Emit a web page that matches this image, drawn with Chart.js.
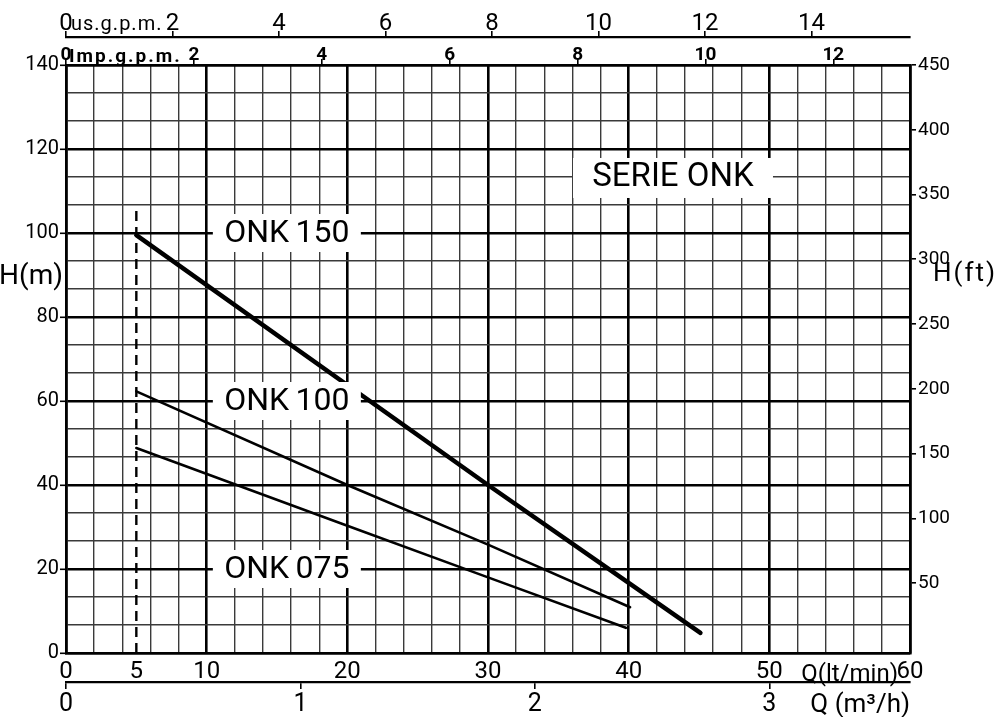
<!DOCTYPE html>
<html>
<head>
<meta charset="utf-8">
<script src="https://cdn.jsdelivr.net/npm/chart.js@4.4.1/dist/chart.umd.min.js"></script>
<style>
  html, body { margin: 0; padding: 0; background: #fff; }
  #wrap { width: 998px; height: 717px; position: relative; }
</style>
</head>
<body>
<div id="wrap"><canvas id="pump"></canvas></div>
<script>
// flow Q in lt/min, head H in m
const onk150Q = [5, 30, 40, 45.1];
const onk150H = [99.5, 40, 16.7, 4.8];
const onk100Q = [5, 20, 30, 40.1];
const onk100H = [62.3, 40, 25.8, 10.9];
const onk075Q = [5, 20, 30, 39.8];
const onk075H = [48.8, 30.3, 18, 6];
// minimum flow marker (dashed)
const minFlowQ = [5, 5];
const minFlowH = [0, 106];

const curveNames = ['ONK\u2009150', 'ONK\u2009100', 'ONK\u2009075'];
const curveNameH = [100, 60, 20];
const seriesName = 'SERIE ONK';

// tick labels
const qTicks = [0, 5, 10, 20, 30, 40, 50, 60];
const hTicks = [0, 20, 40, 60, 80, 100, 120, 140];
const ftTicks = [50, 100, 150, 200, 250, 300, 350, 400, 450];
const usTicks = [0, 2, 4, 6, 8, 10, 12, 14];
const impTicks = [0, 2, 4, 6, 8, 10, 12];
const m3hTicks = [0, 1, 2, 3];

const LPM_PER_USGPM = 3.785;
const LPM_PER_IMPGPM = 4.546;
const LPM_PER_M3H = 16.667;

// grid: every 2 lt/min, every 20/3 m
const qGrid = [];
for (let v = 0; v <= 60; v += 2) { qGrid.push(v); if (v === 4) qGrid.push(5); }
const hGrid = [];
for (let k = 0; k <= 21; k++) hGrid.push(k * 20 / 3);

const isMult = (v, step) => Math.abs(v / step - Math.round(v / step)) < 1e-6;
const asTicks = arr => arr.map(v => ({ value: v }));
const pts = (q, h) => q.map((v, i) => ({ x: v, y: h[i] }));

const minor = '#3a3a3a';
const font = (size, weight) => ({ family: 'Roboto', size: size, weight: weight || 'normal' });

const sideAxis = (extra) => Object.assign({
  type: 'linear',
  grid: { drawOnChartArea: false, color: '#000', lineWidth: 1.6, tickLength: 6 },
  border: { color: '#000', width: 2.2 },
  ticks: { color: '#000', autoSkip: false, maxRotation: 0, padding: 1 }
}, extra);

const extras = {
  id: 'extras',
  afterDraw(chart) {
    const { ctx, scales } = chart;
    const { x, y } = scales;
    ctx.save();
    ctx.textAlign = 'center';
    ctx.textBaseline = 'middle';

    // curve name boxes
    curveNames.forEach((name, i) => {
      const cx = x.getPixelForValue(15.7), cy = y.getPixelForValue(curveNameH[i]);
      ctx.fillStyle = '#fff';
      ctx.fillRect(cx - 74, cy - 19, 148, 38);
      ctx.fillStyle = '#000';
      ctx.font = '32px Roboto';
      ctx.fillText(name, cx, cy + 1);
    });

    // series title
    const sx = x.getPixelForValue(43.15), sy = y.getPixelForValue(113.1);
    ctx.fillStyle = '#fff';
    ctx.fillRect(sx - 100, sy - 20, 200, 40);
    ctx.fillStyle = '#000';
    ctx.font = '33px Roboto';
    ctx.fillText(seriesName, sx, sy);

    // axis names
    ctx.font = '28px Roboto';
    ctx.fillText('H(m)', 31, 277);
    ctx.letterSpacing = '2px';
    ctx.font = '26px Roboto';
    ctx.fillText('H(ft)', 965, 274);

    ctx.textAlign = 'left';
    ctx.textBaseline = 'alphabetic';
    ctx.letterSpacing = '1px';
    ctx.font = '20px Roboto';
    ctx.fillText('us.g.p.m.', scales.us.getPixelForValue(0) + 5, 30);
    ctx.letterSpacing = '2px';
    ctx.font = 'bold 19px Roboto';
    ctx.fillText('Imp.g.p.m.', scales.imp.getPixelForValue(0) + 3, 62);

    ctx.letterSpacing = '0px';
    ctx.textAlign = 'right';
    ctx.font = '24px Roboto';
    ctx.fillText('Q(lt/min)', x.getPixelForValue(60) - 12, 681);
    ctx.font = '26px Roboto';
    ctx.fillText('Q (m³/h)', x.right, 712);
    ctx.restore();
  }
};

new Chart(document.getElementById('pump'), {
  type: 'line',
  data: {
    datasets: [
      { data: pts(onk150Q, onk150H), borderColor: '#000', borderWidth: 4.5 },
      { data: pts(onk100Q, onk100H), borderColor: '#000', borderWidth: 2.6 },
      { data: pts(onk075Q, onk075H), borderColor: '#000', borderWidth: 2.6 },
      { data: pts(minFlowQ, minFlowH), borderColor: '#000', borderWidth: 2.4, borderDash: [10, 6], borderCapStyle: 'butt' }
    ]
  },
  options: {
    responsive: true,
    maintainAspectRatio: false,
    animation: false,
    events: [],
    layout: { padding: 0 },
    elements: {
      point: { radius: 0 },
      line: { tension: 0, fill: false, borderCapStyle: 'round' }
    },
    plugins: { legend: { display: false }, tooltip: { enabled: false } },
    scales: {
      x: {
        type: 'linear', position: 'bottom', weight: 0, min: 0, max: 60,
        afterBuildTicks: s => { s.ticks = asTicks(qGrid); },
        afterFit: s => { s.height = 29; },
        grid: {
          drawTicks: false,
          color: c => c.tick.value === 5 ? 'rgba(0,0,0,0)' : (isMult(c.tick.value, 10) ? '#000' : minor),
          lineWidth: c => isMult(c.tick.value, 10) ? 2.6 : 1.4
        },
        border: { color: '#000', width: 2.6 },
        ticks: {
          color: '#000', font: font(24), autoSkip: false, maxRotation: 0, padding: 5,
          callback: v => qTicks.includes(v) ? String(v) : ''
        }
      },
      y: {
        type: 'linear', position: 'left', min: 0, max: 140,
        afterBuildTicks: s => { s.ticks = asTicks(hGrid); },
        afterFit: s => { s.width = 66; },
        grid: {
          color: c => isMult(c.tick.value, 20) ? '#000' : minor,
          lineWidth: c => isMult(c.tick.value, 20) ? 2.6 : 1.4,
          tickColor: c => isMult(c.tick.value, 20) ? '#000' : 'rgba(0,0,0,0)',
          tickLength: 6, tickWidth: 1.6
        },
        border: { color: '#000', width: 2.6 },
        ticks: {
          color: '#000', font: font(20), autoSkip: false, padding: 1,
          callback: v => (isMult(v, 20) && hTicks.includes(Math.round(v))) ? String(Math.round(v)) : ''
        }
      },
      y2: sideAxis({
        position: 'right', min: -4, max: 450,
        afterBuildTicks: s => { s.ticks = asTicks(ftTicks); },
        afterFit: s => { s.width = 88; },
        border: { color: '#000', width: 2.6 },
        ticks: { color: '#000', font: font(19), padding: 2 }
      }),
      imp: sideAxis({
        position: 'top', weight: 1, min: 0, max: 60 / LPM_PER_IMPGPM,
        afterBuildTicks: s => { s.ticks = asTicks(impTicks); },
        afterFit: s => { s.height = 28; },
        border: { color: '#000', width: 2.6 },
        ticks: { color: '#000', font: font(19, 'bold'), padding: -8 }
      }),
      us: sideAxis({
        position: 'top', weight: 2, min: 0, max: 60 / LPM_PER_USGPM,
        afterBuildTicks: s => { s.ticks = asTicks(usTicks); },
        afterFit: s => { s.height = 37; },
        ticks: { color: '#000', font: font(24), padding: -7 }
      }),
      xm: sideAxis({
        position: 'bottom', weight: 1, min: 0, max: 60 / LPM_PER_M3H,
        afterBuildTicks: s => { s.ticks = asTicks(m3hTicks); },
        afterFit: s => { s.height = 35; },
        grid: { drawOnChartArea: false, color: '#000', lineWidth: 1.6, tickLength: 7 },
        ticks: { color: '#000', font: font(25), padding: 1 }
      })
    }
  },
  plugins: [extras]
});
</script>
</body>
</html>
